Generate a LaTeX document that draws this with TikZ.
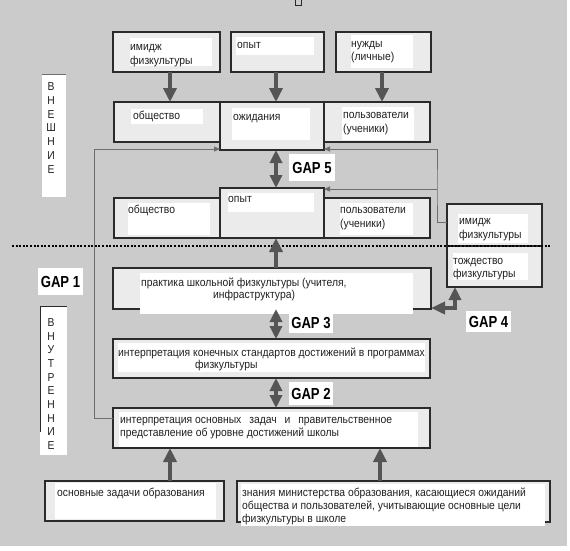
\documentclass[tikz,border=0pt]{standalone}
\usepackage{fontspec}
\setmainfont{Liberation Sans}[FakeStretch=0.9]
\newfontfamily\gapfont{Liberation Sans}[FakeStretch=0.82]
\usetikzlibrary{arrows.meta,calc}
\definecolor{bg}{HTML}{CBCBCB}
\definecolor{boxfill}{HTML}{EBEBEB}
\definecolor{boxline}{HTML}{2A2A2A}
\definecolor{arrcol}{HTML}{555555}
\definecolor{thincol}{HTML}{6E6E6E}
\definecolor{txtcol}{HTML}{202020}
\begin{document}
\begin{tikzpicture}[x=1pt,y=-1pt,
  box/.style={draw=boxline,line width=1.1pt,fill=boxfill,inner sep=0pt,outer sep=0pt,anchor=north west},
  txt/.style={anchor=base west,inner sep=0pt,font=\fontsize{11.5}{13}\selectfont,text=txtcol},
  side/.style={align=center,inner sep=0pt,font=\fontsize{11.5}{13.7}\selectfont,text=txtcol},
  gap/.style={fill=white,inner sep=0pt,text=black,font=\gapfont\bfseries\fontsize{16}{16}\selectfont},
  bigarrow/.style={draw=arrcol,line width=4pt,-{Triangle[width=13pt,length=14pt]}},
  dblarrow/.style={draw=arrcol,line width=4pt,{Triangle[width=12pt,length=13pt]}-{Triangle[width=12pt,length=13pt]}},
  elbowarrow/.style={draw=arrcol,line width=3.5pt,{Triangle[width=12pt,length=13pt]}-{Triangle[width=12pt,length=14pt]}},
  thinarrow/.style={draw=thincol,line width=0.9pt,-{Triangle[width=5pt,length=6pt]}},
  dotline/.style={draw=black,line width=2pt,dash pattern=on 2pt off 1.6pt}
]
\useasboundingbox (0,0) rectangle (570,550);
\fill[bg] (0,0) rectangle (567,546);
\draw[boxline,line width=0.7pt] (295,0) -- (295,5) -- (301,5) -- (301,0);

% column coordinates
\coordinate (c1) at (170,0);
\coordinate (c2) at (276,0);
\coordinate (c3) at (382,0);
\coordinate (c4) at (380,0);
\coordinate (c5) at (455,0);
\coordinate (rv) at (437,189);

% side labels
\fill[white] (42,74) rectangle (66,197);
\draw[thincol,line width=0.6pt] (42,74) -- (66,74);
\node[side] (ext) at (51,128) {В\\Н\\Е\\Ш\\Н\\И\\Е};
\fill[white] (40,306) rectangle (67,455);
\draw[boxline,line width=0.8pt] (40,432) -- (40,306) -- (67,306);
\node[side] (int) at (51,384) {В\\Н\\У\\Т\\Р\\Е\\Н\\Н\\И\\Е};

% top row
\node[box,minimum width=107,minimum height=40] (b1) at (113,32) {};
\fill[white] (130,38) rectangle (212,66);
\node[box,minimum width=93,minimum height=40] (b2) at (231,32) {};
\fill[white] (236,37) rectangle (314,55);
\node[box,minimum width=95,minimum height=40] (b3) at (336,32) {};
\fill[white] (351,35) rectangle (413,68);

% second row
\node[box,minimum width=106,minimum height=40] (b4) at (114,102) {};
\fill[white] (131,109) rectangle (203,124);
\node[box,minimum width=106,minimum height=40] (b6) at (324,102) {};
\fill[white] (342,107) rectangle (414,140);
\node[box,minimum width=104,minimum height=48] (b5) at (220,102) {};
\fill[white] (232,108) rectangle (310,140);

% third row
\node[box,minimum width=106,minimum height=40] (b7) at (114,198) {};
\fill[white] (128,203) rectangle (210,235);
\node[box,minimum width=106,minimum height=40] (b9) at (324,198) {};
\fill[white] (340,203) rectangle (413,235);
\node[box,minimum width=104,minimum height=50] (b8) at (220,188) {};
\fill[white] (228,193) rectangle (314,212);

% right box
\node[box,minimum width=95,minimum height=83] (b10) at (447,204) {};
\fill[white] (458,214) rectangle (528,243);
\fill[white] (453,253) rectangle (528,280);
\draw[boxline,line width=1.1pt] (447,246) -- (542,246);

% lower boxes
\node[box,minimum width=318,minimum height=41] (b11) at (113,268) {};
\fill[white] (140,273) rectangle (413,314);
\node[box,minimum width=317,minimum height=39] (b12) at (113,339) {};
\fill[white] (118,343) rectangle (425,372);
\node[box,minimum width=317,minimum height=40] (b13) at (113,408) {};
\fill[white] (119,412) rectangle (418,447);
\node[box,minimum width=179,minimum height=40] (b14) at (45,481) {};
\fill[white] (55,483) rectangle (216,519);
\node[box,minimum width=313,minimum height=41] (b15) at (237,481) {};
\fill[white] (241,484) rectangle (545,526);

% dotted separator
\draw[dotline] (12,246) -- (550,246);

% feedback lines
\draw[thinarrow] ($(b13.north west)+(0,10)$) -- ($(b13.north west)+(-19,10)$) |- ($(b5.south west)+(0,-1)$);
\draw[thinarrow] ($(b10.north west)+(0,18)$) -| (rv) |- ($(b5.south east)+(0,-1)$);
\draw[thinarrow] (rv) -- ($(b8.north east)+(0,1)$);

% texts
\node[txt] (t1a) at (130,50) {имидж};
\node[txt] (t1b) at (130,64) {физкультуры};
\node[txt] (t2) at (237,48) {опыт};
\node[txt] (t3a) at (351,47) {нужды};
\node[txt] (t3b) at (351,60) {(личные)};
\node[txt] (t4) at (133,119) {общество};
\node[txt] (t5) at (233,120) {ожидания};
\node[txt] (t6a) at (343,118) {пользователи};
\node[txt] (t6b) at (343,132) {(ученики)};
\node[txt] (t7) at (128,213) {общество};
\node[txt] (t8) at (228,202) {опыт};
\node[txt] (t9a) at (340,213) {пользователи};
\node[txt] (t9b) at (340,227) {(ученики)};
\node[txt] (t10a) at (459,224) {имидж};
\node[txt] (t10b) at (459,238) {физкультуры};
\node[txt] (t10c) at (453,264) {тождество};
\node[txt] (t10d) at (453,277) {физкультуры};
\node[txt] (t11a) at (141,286) {практика школьной физкультуры (учителя,};
\node[txt] (t11b) at (213,298) {инфраструктура)};
\node[txt] (t12a) at (118,356) {интерпретация конечных стандартов достижений в программах};
\node[txt] (t12b) at (195,368) {физкультуры};
\node[txt] (t13a) at (120,423) {интерпретация основных\hspace{5pt} задач\hspace{5pt} и\hspace{5pt} правительственное};
\node[txt] (t13b) at (120,436) {представление об уровне достижений школы};
\node[txt] (t14) at (57,496) {основные задачи образования};
\node[txt] (t15a) at (242,496) {знания министерства образования, касающиеся ожиданий};
\node[txt] (t15b) at (242,509) {общества и пользователей, учитывающие основные цели};
\node[txt] (t15c) at (242,522) {физкультуры в школе};

% thick arrows
\draw[bigarrow] (b1.south -| c1) -- (b4.north -| c1);
\draw[bigarrow] (b2.south -| c2) -- (b5.north -| c2);
\draw[bigarrow] (b3.south -| c3) -- (b6.north -| c3);
\draw[bigarrow] (b11.north -| c2) -- (b8.south -| c2);
\draw[bigarrow] (b14.north -| c1) -- (b13.south -| c1);
\draw[bigarrow] (b15.north -| c4) -- (b13.south -| c4);
\draw[dblarrow] (b5.south -| c2) -- (b8.north -| c2);
\draw[dblarrow] (b11.south -| c2) -- (b12.north -| c2);
\draw[dblarrow] (b12.south -| c2) -- (b13.north -| c2);
\draw[elbowarrow] (b10.south -| c5) |- ($(b11.south east)+(0,-1)$);

% gap labels
\node[gap,minimum width=45,minimum height=27] (g1) at (60.5,281.5) {GAP 1};
\node[gap,minimum width=46,minimum height=27] (g5) at (312,167.5) {GAP 5};
\node[gap,minimum width=44,minimum height=21] (g3) at (311,322.5) {GAP 3};
\node[gap,minimum width=44,minimum height=23] (g2) at (311,393.5) {GAP 2};
\node[gap,minimum width=45,minimum height=21] (g4) at (488.5,321.5) {GAP 4};
\end{tikzpicture}
\end{document}
